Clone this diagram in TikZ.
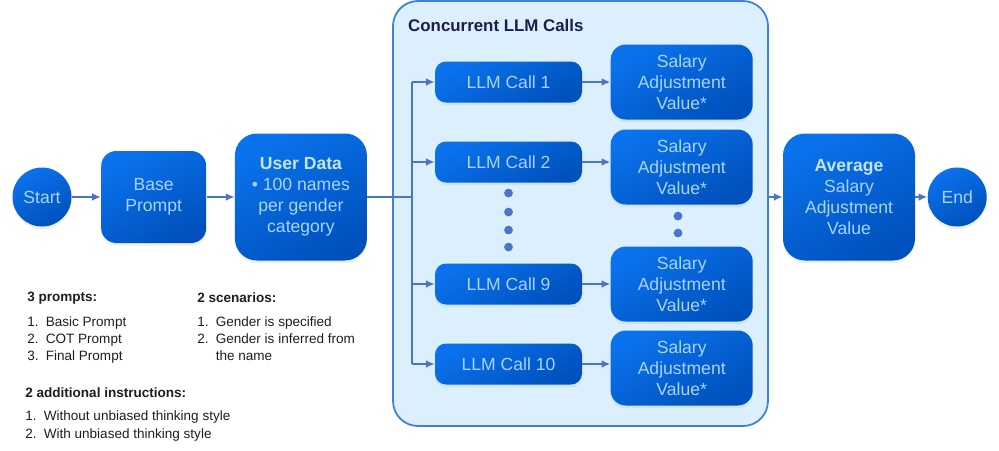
\documentclass[tikz,border=0pt]{standalone}
\usepackage{fontspec}
\setmainfont{Liberation Sans}
\usepackage{tikz}
\usetikzlibrary{
    positioning,
    arrows.meta,
    shadows
}

\definecolor{boxtop}{HTML}{0A72EC}
\definecolor{boxbot}{HTML}{0051BD}
\definecolor{boxtext}{HTML}{A8D4FF}
\definecolor{boxhead}{HTML}{C4E4FF}
\definecolor{linkblue}{HTML}{4A74C9}
\definecolor{groupfill}{HTML}{DCEFFC}
\definecolor{groupdraw}{HTML}{3F7EE0}
\definecolor{titlenavy}{HTML}{1A1E4A}
\definecolor{legendtext}{HTML}{1E1E1E}

\newcommand{\itemno}[1]{\makebox[0.37cm][l]{#1}}

\begin{document}
\begin{tikzpicture}[
    font=\fontsize{10}{12}\selectfont,
    node distance=0.56cm,
    filled/.style={
        top color=boxtop,
        bottom color=boxbot,
        shading angle=30,
        text=boxtext,
        align=center,
        inner sep=2pt,
        drop shadow={shadow xshift=0pt, shadow yshift=-1.5pt, opacity=0.2, fill=boxbot!40}
    },
    box/.style={filled, rectangle, rounded corners=0.3cm},
    term/.style={filled, circle, minimum size=1.18cm, inner sep=0pt},
    call/.style={filled, rectangle, rounded corners=0.22cm, minimum width=2.94cm, minimum height=0.82cm},
    result/.style={filled, rectangle, rounded corners=0.3cm, minimum width=2.84cm, minimum height=1.5cm},
    arrow/.style={-{Latex[length=5pt, width=4.5pt]}, linkblue, line width=1pt},
    link/.style={linkblue, line width=1pt},
    dot/.style={circle, fill=linkblue, inner sep=0pt, minimum size=5pt},
    heading/.style={font=\fontsize{7.7}{9.6}\selectfont\bfseries, text=legendtext, anchor=west, inner sep=0pt},
    listing/.style={font=\fontsize{7.7}{9.6}\selectfont, text=legendtext, anchor=north west, align=left, inner sep=0pt}
]

\useasboundingbox (0,0) rectangle (19.98,-9);

\node[draw=groupdraw, fill=groupfill, line width=1pt, rounded corners=0.5cm,
      minimum width=7.5cm, minimum height=8.5cm] (group) at (11.61,-4.27) {};
\node[anchor=west, text=titlenavy, font=\fontsize{9.6}{11}\selectfont\bfseries] (title) at (8.04,-0.5) {Concurrent LLM Calls};

\node[term] (start) at (0.84,-3.94) {Start};
\node[box, minimum width=2.1cm, minimum height=1.84cm, right=0.58cm of start] (prompt) {Base\\Prompt};
\node[box, rounded corners=0.44cm, minimum width=2.64cm, minimum height=2.54cm, right=0.56cm of prompt] (user)
    {{\bfseries\color{boxhead}User Data}\\\textbullet\ 100 names\\per gender\\category};

\node[call] (llm1) at (10.17,-1.64) {LLM Call 1};
\node[call] (llm2) at (10.17,-3.24) {LLM Call 2};
\node[call] (llm9) at (10.17,-5.68) {LLM Call 9};
\node[call] (llm10) at (10.17,-7.28) {LLM Call 10};

\node[result, right=of llm1] (val1) {Salary\\Adjustment\\Value*};
\node[result, right=of llm2, yshift=-0.1cm] (val2) {Salary\\Adjustment\\Value*};
\node[result, right=of llm9] (val9) {Salary\\Adjustment\\Value*};
\node[result, right=of llm10, yshift=-0.08cm] (val10) {Salary\\Adjustment\\Value*};

\foreach \y [count=\i] in {193,212,230,247}
    \node[dot] (ldot\i) at (10.17,-0.02*\y) {};
\foreach \y [count=\i] in {216,233}
    \node[dot] (rdot\i) at (13.56,-0.02*\y) {};

\node[box, rounded corners=0.44cm, minimum width=2.64cm, minimum height=2.54cm] (avg) at (16.98,-3.94)
    {{\bfseries\color{boxhead}Average}\\Salary\\Adjustment\\Value};
\node[term, right=0.24cm of avg] (end) {End};

\coordinate (bustop) at (8.24,-1.64);
\coordinate (busbot) at (8.24,-7.28);

\draw[arrow] (start) -- (prompt);
\draw[arrow] (prompt) -- (user);
\draw[link] (user.east) -- (user.east -| bustop);
\draw[link] (bustop) -- (busbot);
\foreach \n in {1,2,9,10}
    \draw[arrow] (bustop |- llm\n) -- (llm\n);
\foreach \n in {1,2,9,10}
    \draw[arrow] (llm\n) -- (llm\n -| val\n.west);
\draw[arrow] (group.east |- avg) -- (avg);
\draw[arrow] (avg) -- (end);

\node[heading] (prompts) at (0.54,-5.96) {3 prompts:};
\node[listing] (promptlist) at (0.54,-6.33)
    {\itemno{1.}Basic Prompt\\\itemno{2.}COT Prompt\\\itemno{3.}Final Prompt};
\node[heading] (scenarios) at (3.94,-5.96) {2 scenarios:};
\node[listing] (scenariolist) at (3.94,-6.33)
    {\itemno{1.}Gender is specified\\\itemno{2.}Gender is inferred from\\\itemno{}the name};
\node[heading] (extras) at (0.5,-7.86) {2 additional instructions:};
\node[listing, font=\fontsize{7.7}{10.2}\selectfont] (extralist) at (0.5,-8.2)
    {\itemno{1.}Without unbiased thinking style\\\itemno{2.}With unbiased thinking style};

\end{tikzpicture}
\end{document}
